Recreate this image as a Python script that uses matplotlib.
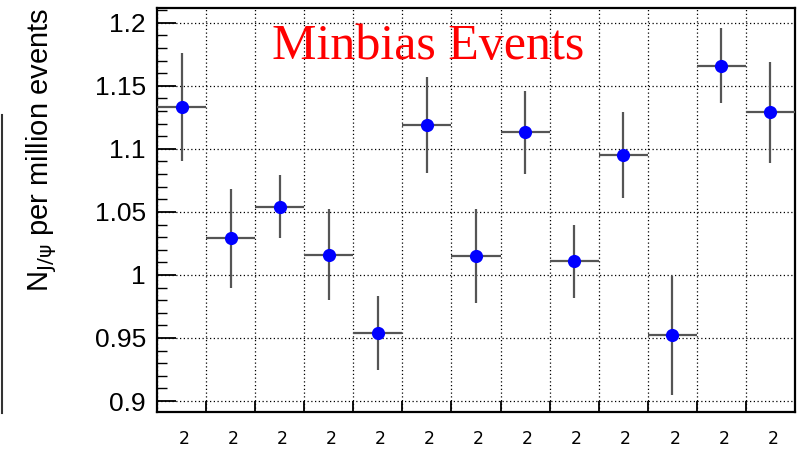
import numpy as np
import matplotlib.pyplot as plt
from matplotlib.ticker import MultipleLocator, FixedLocator
from matplotlib.lines import Line2D

# J/psi yield per million minbias events, one bin per run
bin_edges = np.arange(0, 14)
yields = [1.133, 1.029, 1.054, 1.016, 0.954, 1.119, 1.015,
          1.113, 1.011, 1.095, 0.952, 1.166, 1.129]
errors = [0.043, 0.039, 0.025, 0.036, 0.029, 0.038, 0.037,
          0.033, 0.029, 0.034, 0.047, 0.030, 0.040]
run_labels = ["2"] * 13

centers = 0.5 * (bin_edges[:-1] + bin_edges[1:])
half_width = 0.5 * np.diff(bin_edges)

fig = plt.figure(figsize=(7.99, 4.51), dpi=100)
ax = fig.add_axes([157 / 799, 39 / 451, 638 / 799, 404 / 451])

ax.errorbar(centers, yields, xerr=half_width, yerr=errors, fmt='none',
            ecolor='#555555', elinewidth=1.6, capsize=0, zorder=3)
ax.plot(centers, yields, 'o', color='#0000ff', markersize=9.5,
        markeredgewidth=0, zorder=4)

ax.set_xlim(bin_edges[0], bin_edges[-1])
ax.set_ylim(0.8913, 1.2117)

ax.yaxis.set_minor_locator(MultipleLocator(0.01))
ax.xaxis.set_major_locator(FixedLocator(bin_edges))
ax.set_yticks([0.9, 0.95, 1.0, 1.05, 1.1, 1.15, 1.2])
ax.set_yticklabels(['0.9', '0.95', '1', '1.05', '1.1', '1.15', '1.2'],
                   family='Liberation Sans', fontsize=19)
ax.set_xticklabels([])

ax.tick_params(axis='y', which='major', direction='in', length=13.5,
               width=1.3, pad=8, right=False)
ax.tick_params(axis='y', which='minor', direction='in', length=7,
               width=1.0, right=False)
ax.tick_params(axis='x', which='major', direction='in', length=8,
               width=1.3, top=False)

ax.grid(True, which='major', linestyle=(0, (1, 2)), color='black',
        linewidth=0.9)
ax.set_axisbelow(True)
for s in ax.spines.values():
    s.set_linewidth(1.6)

# run labels under each bin (only their tops survive the crop)
for c, lab in zip(centers, run_labels):
    ax.text(c + 0.05, -0.045, lab, transform=ax.get_xaxis_transform(),
            ha='center', va='top', fontsize=12.5, family='DejaVu Sans')

# ROOT-style y title, aligned to the top of the axis
fig.text(42 / 799, 1 - 8 / 451, r'N$_{\mathrm{J/\psi}}$ per million events',
         rotation=90, ha='center', va='top',
         family='Liberation Sans', fontsize=21)

ax.text(0.425, 0.874, 'Minbias Events', transform=ax.transAxes,
        color='red', family='Liberation Serif', fontsize=36,
        ha='center', va='baseline')

# edge of the neighbouring panel on the left
fig.add_artist(Line2D([1.5 / 799, 1.5 / 799], [1 - 115 / 451, 1 - 413 / 451],
                      color='#333333', linewidth=1.5))

fig.savefig('out.png', dpi=100)
